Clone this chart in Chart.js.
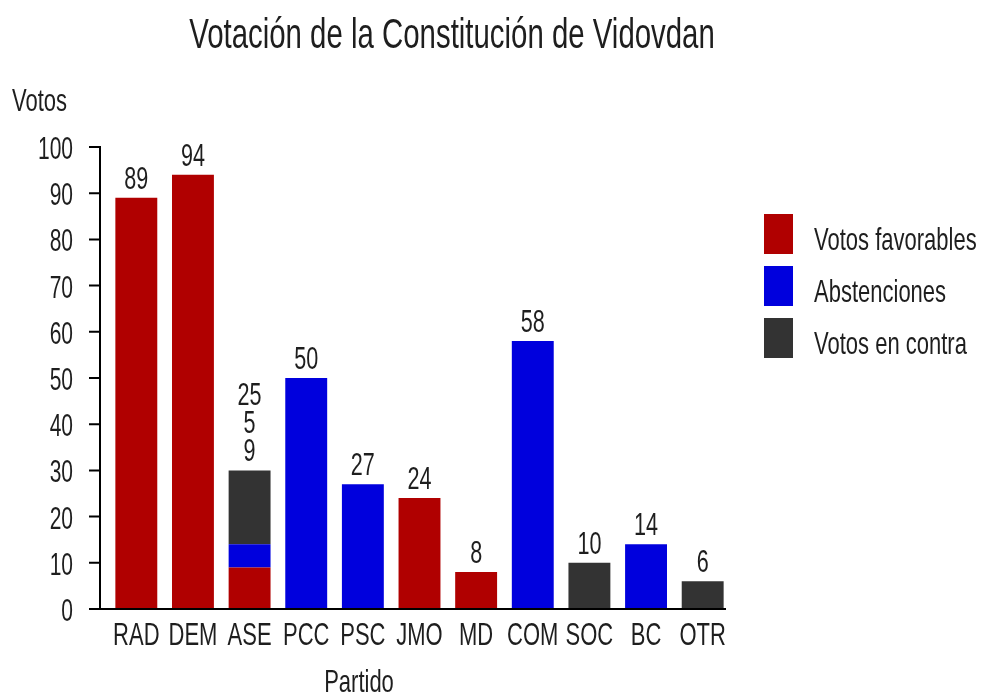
<!DOCTYPE html>
<html>
<head>
<meta charset="utf-8">
<script src="https://cdn.jsdelivr.net/npm/chart.js@4/dist/chart.umd.min.js"></script>
<style>
  html, body { margin: 0; padding: 0; background: #ffffff; }
  #wrap { width: 985px; height: 698px; }
</style>
</head>
<body>
<div id="wrap"><canvas id="chart" width="985" height="698"></canvas></div>
<script>
// Data
const partidos = ["RAD", "DEM", "ASE", "PCC", "PSC", "JMO", "MD", "COM", "SOC", "BC", "OTR"];
const favorables = [89, 94, 9, 0, 0, 24, 8, 0, 0, 0, 0];
const abstenciones = [0, 0, 5, 50, 27, 0, 0, 58, 0, 14, 0];
const enContra = [0, 0, 16, 0, 0, 0, 0, 0, 10, 0, 6];
// Labels printed above each bar (top line first), as they appear in the picture
const etiquetas = [["89"], ["94"], ["25", "5", "9"], ["50"], ["27"], ["24"], ["8"], ["58"], ["10"], ["14"], ["6"]];
const yTicks = [0, 10, 20, 30, 40, 50, 60, 70, 80, 90, 100];

const FONT = "'Liberation Sans', Arial, sans-serif";
const STRETCH = 1.45; // the reference uses a tall, narrow face
const TEXT = "#1e1e1e";
const colors = {
  fav: "#b00000",
  abs: "#0000dd",
  con: "#333333",
};

// text drawn with its baseline at y, stretched vertically
function tallText(ctx, str, x, y, size, align) {
  ctx.save();
  ctx.font = size + "px " + FONT;
  ctx.textAlign = align;
  ctx.textBaseline = "alphabetic";
  ctx.fillStyle = TEXT;
  ctx.translate(x, y);
  ctx.scale(1, STRETCH);
  ctx.fillText(str, 0, 0);
  ctx.restore();
}

// Draws axes, tick labels, title, legend and value labels
const decoPlugin = {
  id: "deco",
  afterDraw(chart) {
    const ctx = chart.ctx;
    const area = chart.chartArea;
    const y = chart.scales.y;
    const x = chart.scales.x;
    const axisX = area.left - 8;

    ctx.save();
    ctx.strokeStyle = "#000";
    ctx.lineWidth = 2;
    ctx.beginPath();
    ctx.moveTo(axisX, y.getPixelForValue(100) - 1);
    ctx.lineTo(axisX, y.getPixelForValue(0));
    ctx.moveTo(axisX - 11, y.getPixelForValue(0));
    ctx.lineTo(area.right - 5, y.getPixelForValue(0));
    yTicks.forEach((t) => {
      const py = y.getPixelForValue(t);
      ctx.moveTo(axisX - 11, py);
      ctx.lineTo(axisX, py);
    });
    ctx.stroke();
    ctx.restore();

    // y tick labels
    y.ticks.forEach((t) => {
      tallText(ctx, String(t.value), 73, y.getPixelForValue(t.value) + 12, 21, "right");
    });
    // x tick labels
    partidos.forEach((p, i) => {
      tallText(ctx, p, x.getPixelForValue(i), 645, 22, "center");
    });

    tallText(ctx, "Votación de la Constitución de Vidovdan", 452, 48, 29.4, "center");
    tallText(ctx, "Votos", 12, 111, 22, "left");
    tallText(ctx, "Partido", 359, 692, 22, "center");

    // value labels
    partidos.forEach((p, i) => {
      const total = favorables[i] + abstenciones[i] + enContra[i];
      const px = x.getPixelForValue(i);
      const top = y.getPixelForValue(total);
      const lines = etiquetas[i];
      lines.forEach((txt, k) => {
        const fromBottom = lines.length - 1 - k;
        tallText(ctx, txt, px, top - 9 - fromBottom * 28, 21.6, "center");
      });
    });

    // legend
    chart.data.datasets.forEach((ds, i) => {
      const ly = 214 + i * 52;
      ctx.fillStyle = ds.backgroundColor;
      ctx.fillRect(764, ly, 29, 40);
      tallText(ctx, ds.label, 814, ly + 36, 22, "left");
    });
  },
};

new Chart(document.getElementById("chart"), {
  type: "bar",
  data: {
    labels: partidos,
    datasets: [
      { label: "Votos favorables", data: favorables, backgroundColor: colors.fav },
      { label: "Abstenciones", data: abstenciones, backgroundColor: colors.abs },
      { label: "Votos en contra", data: enContra, backgroundColor: colors.con },
    ],
  },
  options: {
    responsive: false,
    animation: false,
    layout: { padding: { left: 0, top: 147, right: 254, bottom: 0 } },
    datasets: { bar: { categoryPercentage: 1, barPercentage: 0.74 } },
    plugins: {
      legend: { display: false },
      title: { display: false },
      tooltip: { enabled: false },
    },
    scales: {
      x: {
        stacked: true,
        grid: { display: false, drawTicks: false },
        border: { display: false },
        ticks: { display: false },
        afterFit: (s) => { s.height = 89; },
      },
      y: {
        stacked: true,
        min: 0,
        max: 100,
        grid: { display: false, drawTicks: false },
        border: { display: false },
        ticks: { display: false, stepSize: 10 },
        afterFit: (s) => { s.width = 108; },
      },
    },
  },
  plugins: [decoPlugin],
});
</script>
</body>
</html>
